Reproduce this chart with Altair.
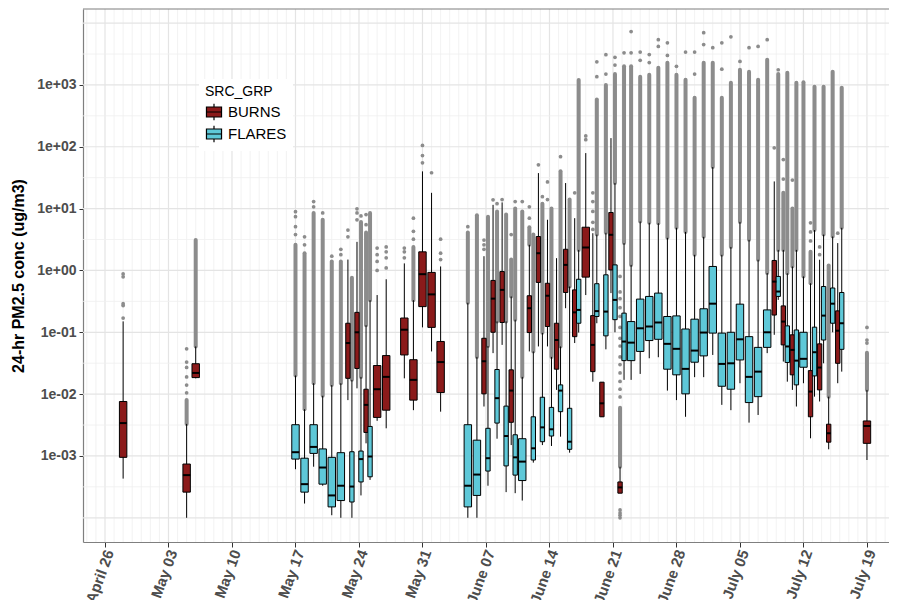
import altair as alt
import pandas as pd
from collections import Counter

# ---------------- data ----------------
DATES = ["04-28","05-05","05-06","05-17","05-18","05-19","05-20","05-21","05-22","05-23",
         "05-23","05-24","05-24","05-25","05-25","05-26","05-27","05-29","05-30","05-31",
         "06-01","06-02","06-05","06-06","06-07","06-07","06-08","06-08","06-09","06-09",
         "06-10","06-10","06-11","06-12","06-12","06-13","06-13","06-14","06-14","06-15",
         "06-15","06-16","06-16","06-17","06-17","06-18","06-19","06-19","06-20","06-20",
         "06-21","06-21","06-22","06-22","06-23","06-24","06-25","06-26","06-27","06-28",
         "06-29","06-30","07-01","07-02","07-03","07-04","07-05","07-06","07-07","07-08",
         "07-09","07-09","07-10","07-10","07-11","07-11","07-12","07-13","07-13","07-14",
         "07-14","07-15","07-15","07-16","07-16","07-19"]
GROUP_CODES = ("BBBFFFFFFB" "FBFBFBBBBB" "BBFFBFBFBF" "BFFBFBFBFB"
               "FBFBFBBFBF" "BFBFFFFFFF" "FFFFFFFFFF" "BFBFBFFBFB" "FBFBFB")
LO = [0.00043,0.0001,0.018,0.00061,0.00017,0.00067,0.00033,0.00011,0.0001,0.008,
      0.0001,0.0124,0.00023,0.0016,0.00041,0.0037,0.0028,0.018,0.0055,0.12,
      0.049,0.0052,0.0001,0.0001,0.0063,0.00033,0.046,0.0019,0.0625,0.00026,
      0.0015,0.00025,0.00019,0.049,0.00078,0.059,0.0015,0.059,0.00145,0.0117,
      0.00205,0.245,0.00113,0.067,0.099,0.4,0.0159,0.14,0.0043,0.053,
      0.43,0.1,0.00025,0.017,0.017,0.0212,0.038,0.0395,0.0114,0.008,
      0.0043,0.0188,0.0188,0.043,0.0067,0.0055,0.015,0.00346,0.0046,0.046,
      0.091,0.334,0.0336,0.0159,0.0117,0.0063,0.015,0.00193,0.0091,0.0076,
      0.0315,0.00128,0.1,0.015,0.0231,0.00086]
Q1 = [0.00095,0.00026,0.0185,0.00089,0.00026,0.0011,0.00035,0.00015,0.00019,0.018,
      0.00018,0.026,0.00038,0.0024,0.00046,0.0042,0.0055,0.043,0.008,0.26,
      0.12,0.0106,0.00015,0.00023,0.0101,0.00057,0.1,0.0034,0.144,0.00069,
      0.0035,0.00049,0.0004,0.099,0.00086,0.64,0.0017,0.124,0.0021,0.0253,
      0.0052,0.44,0.00128,0.085,0.14,0.78,0.0231,0.18,0.0043,0.0875,
      1.02,0.16,0.00025,0.0348,0.0348,0.049,0.0735,0.077,0.0253,0.0205,
      0.0101,0.0328,0.0415,0.097,0.0134,0.012,0.0357,0.0073,0.0091,0.057,
      0.19,0.38,0.0625,0.0325,0.0205,0.0141,0.0272,0.0043,0.0197,0.0117,
      0.075,0.00167,0.14,0.0315,0.053,0.0016]
MED = [0.0034,0.00049,0.022,0.00115,0.00035,0.0014,0.00065,0.00023,0.00033,0.067,
       0.00032,0.1,0.00089,0.0067,0.00098,0.012,0.019,0.11,0.017,0.87,
       0.41,0.033,0.00033,0.0005,0.034,0.00092,0.35,0.0086,0.485,0.0021,
       0.0114,0.00095,0.00081,0.245,0.00133,1.9,0.0029,0.39,0.0027,0.075,
       0.0114,1.23,0.0017,0.21,0.23,2.35,0.0625,0.22,0.0071,0.216,
       3.77,0.334,0.00031,0.0708,0.068,0.116,0.124,0.144,0.065,0.054,
       0.0256,0.0506,0.099,0.29,0.0308,0.0315,0.077,0.019,0.0231,0.1,
       0.66,0.456,0.149,0.059,0.0519,0.0348,0.0372,0.011,0.0476,0.0269,
       0.186,0.00233,0.29,0.106,0.14,0.00305]
Q3 = [0.0076,0.00074,0.031,0.0032,0.00092,0.0032,0.0013,0.00095,0.00113,0.14,
      0.00117,0.21,0.0012,0.012,0.003,0.029,0.042,0.17,0.036,2.0,
      0.93,0.071,0.0032,0.0018,0.08,0.0028,0.69,0.025,0.96,0.0064,
      0.0247,0.0022,0.0019,0.39,0.0043,3.54,0.0089,0.62,0.0061,0.14,
      0.0141,2.2,0.0059,0.485,0.72,5.0,0.186,0.61,0.0156,0.85,
      8.65,1.23,0.00038,0.204,0.149,0.344,0.38,0.43,0.18,0.184,
      0.113,0.163,0.24,1.16,0.097,0.1,0.285,0.085,0.057,0.23,
      1.45,0.8,0.267,0.127,0.091,0.109,0.1,0.024,0.121,0.065,
      0.55,0.00326,0.52,0.222,0.44,0.00368]
HI = [0.15,0.0033,0.059,0.02,0.0057,0.015,0.0094,0.014,0.015,1.5,
      0.017,2.9,0.019,0.13,0.33,0.4,0.72,1.3,0.33,40,
      18,1.16,0.3,0.04,1.7,0.06,11.5,0.15,12.6,0.15,
      0.38,0.16,0.019,2.6,0.049,37.5,0.098,6.6,0.04,1.58,
      0.059,25.9,0.55,7.0,2.15,79,4.0,3.8,0.0156,4.06,
      138,26,0.00067,2.77,1.23,6.2,5.9,5.8,3.37,4.9,
      4.2,1.79,3.5,47,1.79,2.4,6.1,3.13,1.49,0.91,
      27.5,2.15,2.15,0.9,1.16,2.15,0.8,0.62,4.5,1.49,
      3.8,0.0091,3.54,2.77,4.9,0.0117]
# top of the dense run of outliers (None = no dense run)
DENSE_TOP = [None,0.008,3.1,2.6,1.9,8.5,6.6,1.4,1.4,None,
             0.76,None,6.1,4.1,8.5,None,None,None,2.4,None,
             None,None,4.1,7.8,None,7.4,None,9,None,8,
             1.5,10,9,5,3.8,None,12,None,10,None,
             40,None,14,None,1200,None,None,580,None,1000,
             None,1500,0.006,2000,2000,1360,1460,1900,2290,1460,
             1214,621,2290,2290,621,1086,1760,1640,1214,2560,
             None,1500,18,1570,10,1086,1100,2,935,None,
             935,1.2,1640,None,900,0.0465]

# isolated outlier points
OUT_DATE = (["04-28"]*5 + ["05-05"]*6 + ["05-17"]*4 + ["05-18"]*2 + ["05-19"]*2 + ["05-20"] +
            ["05-21"] + ["05-22"]*2 + ["05-23"]*2 + ["05-24"]*3 + ["05-24"] + ["05-25"]*2 +
            ["05-26"]*4 + ["05-27"]*4 + ["05-29"]*3 + ["05-30"]*3 + ["05-31"]*3 + ["06-01"] +
            ["06-02"]*3 + ["06-05"] + ["06-07"]*3 + ["06-08"] + ["06-08"] + ["06-09"] + ["06-10"] +
            ["06-10"] + ["06-11"] + ["06-12"]*2 + ["06-13"] + ["06-13"] + ["06-14"]*2 + ["06-15"] +
            ["06-17"] + ["06-18"]*2 + ["06-19"]*5 + ["06-19"]*2 + ["06-20"]*2 + ["06-21"]*2 +
            ["06-22"]*18 + ["06-22"] + ["06-23"]*2 + ["06-24"]*2 + ["06-25"]*2 + ["06-26"]*2 +
            ["06-27"]*2 + ["06-28"] + ["06-29"] + ["06-30"]*2 + ["07-01"]*2 + ["07-02"] +
            ["07-03"]*2 + ["07-04"] + ["07-05"] + ["07-06"] + ["07-07"] + ["07-08"] + ["07-09"] +
            ["07-09"] + ["07-10"]*2 + ["07-11"] + ["07-13"]*3 + ["07-14"]*2 + ["07-16"] + ["07-19"]*3)
OUT_CODE = ("B"*5 + "B"*6 + "F"*4 + "F"*2 + "F"*2 + "F" + "F" + "F"*2 + "B"*2 + "B"*3 + "F" + "B"*2 +
            "B"*4 + "B"*4 + "B"*3 + "B"*3 + "B"*3 + "B" + "B"*3 + "F" + "B"*3 + "B" + "F" + "B" + "B" +
            "F" + "F" + "B"*2 + "B" + "F" + "B"*2 + "F" + "B" + "B"*2 + "B"*5 + "F"*2 + "F"*2 + "F"*2 +
            "B"*18 + "F" + "F"*2 + "F"*2 + "F"*2 + "F"*2 + "F"*2 + "F" + "F" + "F"*2 + "F"*2 + "F" +
            "F"*2 + "F" + "F" + "F" + "F" + "F" + "B" + "F" + "B"*2 + "B" + "B"*3 + "B"*2 + "B" + "B"*3)
OUT_VAL = [0.17,0.27,0.29,0.79,0.88,
           0.0105,0.014,0.019,0.027,0.033,0.054,
           3.8,5.1,7.4,8.9, 2.6,3.5, 10.7,13, 8.5, 1.7, 1.8,2.2, 3.5,4.5, 6.6,8.5,9.9, 7.6, 5.5,8,
           1.0,1.4,1.8,2.3, 1.1,1.6,2.0,2.4, 1.6,2.0,2.3, 3.2,4.3,7.0, 55,72,105, 38,
           1.5,1.9,3.2, 5.1, 2.2,2.6,3.1, 13.9, 12, 14, 3.8,
           13, 13, 7,10.7, 51, 15.6, 14,27, 69,
           18, 130,150, 4.6,6,9,13,18, 1360,2370, 1500,3080, 2100,2800,
           0.0001,0.00011,0.00012,0.000134,0.009,0.012,0.016,0.022,0.03,0.04,0.06,0.08,0.12,0.18,
           0.25,0.35,0.45,0.8,
           3300, 3300,7300, 2500,3400, 2300,3100, 4200,5400,
           3000,4800, 2000, 3400, 1500,3400, 4500,7000, 4000,
           1800,4800, 6000, 2400, 4000, 4200, 5400, 96,
           1760, 30,62, 29, 3,4.2,5.9, 1.8,2.4, 4, 0.067,0.075,0.12]

WEEK_TICKS = ["04-26","05-03","05-10","05-17","05-24","05-31","06-07","06-14",
              "06-21","06-28","07-05","07-12","07-19"]
Y_TICKS = [1e-3, 1e-2, 1e-1, 1e0, 1e1, 1e2, 1e3]

assert len(DATES) == len(GROUP_CODES) == len(LO) == len(Q1) == len(MED) == len(Q3) == len(HI) == len(DENSE_TOP)
assert len(OUT_DATE) == len(OUT_CODE) == len(OUT_VAL)

# ---------------- layout / style ----------------
W, H = 806, 533
RED, CYAN = "#8b1a1a", "#5ec8d8"
GREY_PT = "#8c8c8c"
FONT = "Liberation Sans"
NAMES = {"B": "BURNS", "F": "FLARES"}


def ms(md, off=0.0):
    t = pd.Timestamp("2020-" + md, tz="UTC") + pd.Timedelta(days=off)
    return int(t.value // 10**6)


X_DOMAIN = [ms("04-26", -2.425), ms("04-26", 86.43)]
Y_DOMAIN = [4.06e-5, 1.69e4]

per_day = Counter(DATES)


def dodge(md, code):
    if per_day[md] == 2:
        return (-0.22 if code == "B" else 0.22), 0.24
    return 0.0, 0.41


rows = []
for i, md in enumerate(DATES):
    c = GROUP_CODES[i]
    off, hw = dodge(md, c)
    rows.append(dict(grp=NAMES[c], xc=ms(md, off), x0=ms(md, off - hw), x1=ms(md, off + hw),
                     lo=LO[i], q1=Q1[i], med=MED[i], q3=Q3[i], hi=HI[i], dtop=DENSE_TOP[i]))
boxes = pd.DataFrame(rows)
dense = boxes[boxes["dtop"].notna()].copy()

orows = []
for md, c, v in zip(OUT_DATE, OUT_CODE, OUT_VAL):
    off, _ = dodge(md, c)
    orows.append(dict(xc=ms(md, off), v=v))
outs = pd.DataFrame(orows)

# grid positions
days = pd.date_range("2020-04-24", "2020-07-21", freq="D", tz="UTC")
week_ms = [ms(d) for d in WEEK_TICKS]
vminor = pd.DataFrame({"t": [int(d.value // 10**6) for d in days if int(d.value // 10**6) not in week_ms]})
vmajor = pd.DataFrame({"t": week_ms})
hmajor = pd.DataFrame({"v": [10.0**k for k in range(-4, 5)]})
hminor = pd.DataFrame({"v": [10.0**(k + 0.5) for k in range(-5, 4)]})

XSCALE = alt.Scale(type="utc", domain=X_DOMAIN)
YSCALE = alt.Scale(type="log", domain=Y_DOMAIN, nice=False)
XAX = alt.Axis(values=week_ms, labelExpr="utcFormat(datum.value, '%B %d')", labelAngle=290,
               labelAlign="right", labelBaseline="middle", labelFontSize=15, labelFont=FONT,
               labelFontWeight="bold", labelColor="#4d4d4d", labelOverlap=False, labelBound=False,
               labelFlush=False, labelPadding=3, labelOffset=4, tickColor="#333333", tickSize=5,
               tickWidth=1, domainColor="#7f7f7f", domainWidth=1.2, grid=False, title=None)
YAX = alt.Axis(values=Y_TICKS,
               labelExpr="datum.value >= 1 ? '1e+0' + format(log(datum.value)/LN10, '.0f') : '1e-0' + format(-log(datum.value)/LN10, '.0f')",
               labelFontSize=14, labelFont=FONT, labelFontWeight="bold", labelColor="#4d4d4d",
               labelPadding=3, tickColor="#333333", tickSize=4, tickWidth=1,
               domainColor="#7f7f7f", domainWidth=1.2, grid=False,
               title="24-hr PM2.5 conc (ug/m3)", titleFont=FONT, titleFontSize=16,
               titleFontWeight="bold", titleColor="#000000", titleAngle=270, titleX=-65,
               titleY=H / 2, titleAlign="center", titleBaseline="middle")


def X(f):
    return alt.X(f + ":T", scale=XSCALE, axis=XAX)


def Y(f):
    return alt.Y(f + ":Q", scale=YSCALE, axis=YAX)


vgrid_minor = alt.Chart(vminor).mark_rule(color="#efefef", strokeWidth=0.8, clip=True).encode(x=X("t"))
vgrid_major = alt.Chart(vmajor).mark_rule(color="#e4e4e4", strokeWidth=1.2, clip=True).encode(x=X("t"))
hgrid_minor = alt.Chart(hminor).mark_rule(color="#efefef", strokeWidth=0.8, clip=True).encode(y=Y("v"))
hgrid_major = alt.Chart(hmajor).mark_rule(color="#e4e4e4", strokeWidth=1.2, clip=True).encode(y=Y("v"))

dense_col = alt.Chart(dense).mark_rule(color=GREY_PT, strokeWidth=4, strokeCap="round", clip=True).encode(
    x=X("xc"), y=Y("hi"), y2="dtop:Q")
points = alt.Chart(outs).mark_circle(color=GREY_PT, size=14, opacity=1, clip=True).encode(
    x=X("xc"), y=Y("v"))
whisk = alt.Chart(boxes).mark_rule(color="#000000", strokeWidth=1, clip=True).encode(
    x=X("xc"), y=Y("lo"), y2="hi:Q")

LEGEND_SYMBOL = "M-0.9,-0.6H0.9V0.6H-0.9Z M-0.9,0H0.9 M0,-0.6V-1 M0,0.6V1"
box = alt.Chart(boxes).mark_bar(stroke="#000000", strokeWidth=1, opacity=1, clip=True).encode(
    x=X("x0"), x2="x1:T", y=Y("q1"), y2="q3:Q",
    color=alt.Color("grp:N", scale=alt.Scale(domain=["BURNS", "FLARES"], range=[RED, CYAN]),
                    legend=alt.Legend(title="SRC_GRP", orient="none", legendX=116, legendY=70,
                                      titleFont=FONT, titleFontSize=14, titleFontWeight="normal",
                                      titleColor="#000000", titlePadding=4,
                                      labelFont=FONT, labelFontSize=15, labelColor="#000000",
                                      labelOffset=5, symbolType=LEGEND_SYMBOL, symbolSize=280,
                                      symbolStrokeColor="#000000", symbolStrokeWidth=1.2,
                                      symbolOpacity=1, fillColor="#ffffff", padding=6, rowPadding=0)))
median = alt.Chart(boxes).mark_rule(color="#000000", strokeWidth=2, clip=True).encode(
    x=X("x0"), x2="x1:T", y=Y("med"))

top_border = alt.Chart(pd.DataFrame({"a": [0]})).mark_rule(color="#7f7f7f", strokeWidth=1.2).encode(
    x=alt.value(0), x2=alt.value(W), y=alt.value(0))

chart = alt.layer(vgrid_minor, vgrid_major, hgrid_minor, hgrid_major, dense_col, points,
                  whisk, box, median, top_border).properties(
    width=W, height=H,
    padding={"left": 75, "top": 1, "right": 0, "bottom": 58},
    autosize=alt.AutoSizeParams(type="none"),
    background="#ffffff",
).configure_view(stroke=None)

chart.save("out.html", embed_options={"renderer": "svg", "actions": False})
